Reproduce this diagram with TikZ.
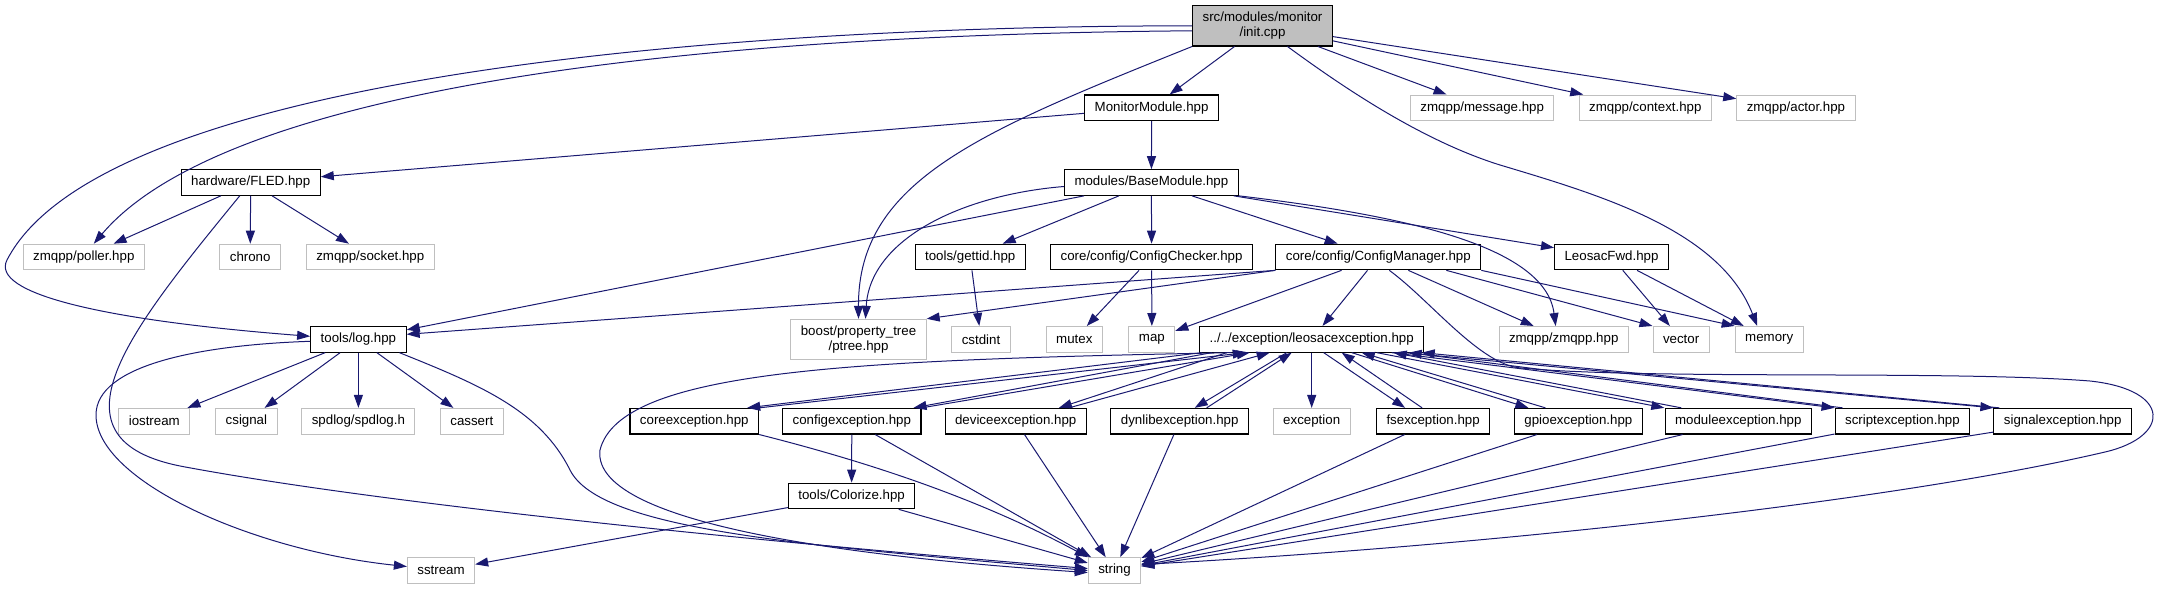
\documentclass[tikz,border=0pt]{standalone}
\usepackage{fontspec}
\setmainfont{Liberation Sans}
\usetikzlibrary{arrows.meta}
\definecolor{dxedge}{HTML}{191970}
\definecolor{dxgrey}{HTML}{BFBFBF}
\tikzset{
  filenode/.style={draw=black,rectangle,fill=white,line width=1.1pt,
    minimum height=25.6pt,inner xsep=10pt,inner ysep=2pt,
    font=\fontsize{13.3}{15}\selectfont,align=center},
  extnode/.style={filenode,draw=dxgrey,line width=1pt},
  rootnode/.style={filenode,fill=dxgrey,minimum height=40.3pt},
  incarrow/.style={draw=dxedge,line width=1pt,-{Triangle[length=13pt,width=9pt]}},
}
\begin{document}
\begin{tikzpicture}[x=1pt,y=-1pt,
        twoline/.style={minimum height=40pt}]
  \useasboundingbox (0,0) rectangle (2160,589);
  % top rows
  \node[rootnode] (init) at (1262.5,25.8) {src/modules/monitor\\/init.cpp};
  \node[filenode] (mon) at (1151.6,107.8) {MonitorModule.hpp};
  \node[extnode] (message) at (1482.2,107.8) {zmqpp/message.hpp};
  \node[extnode] (context) at (1645.3,107.8) {zmqpp/context.hpp};
  \node[extnode] (actor) at (1795.9,107.8) {zmqpp/actor.hpp};
  \node[filenode] (fled) at (250.7,182.5) {hardware/FLED.hpp};
  \node[filenode] (base) at (1151.4,182.5) {modules/BaseModule.hpp};
  \node[extnode] (poller) at (83.8,257) {zmqpp/poller.hpp};
  \node[extnode] (chrono) at (250.2,257) {chrono};
  \node[extnode] (socket) at (370.3,257) {zmqpp/socket.hpp};
  \node[filenode] (gettid) at (970.2,257) {tools/gettid.hpp};
  \node[filenode] (checker) at (1151.6,257) {core/config/ConfigChecker.hpp};
  \node[filenode] (cfgmgr) at (1378.3,257) {core/config/ConfigManager.hpp};
  \node[filenode] (fwd) at (1611.5,257) {LeosacFwd.hpp};
  % middle row
  \node[filenode] (log) at (358.4,339.3) {tools/log.hpp};
  \node[extnode,twoline] (ptree) at (858.5,339.3) {boost/property\_tree\\/ptree.hpp};
  \node[extnode] (cstdint) at (981,339.3) {cstdint};
  \node[extnode] (mutex) at (1074.3,339.3) {mutex};
  \node[extnode] (map) at (1151.9,339.3) {map};
  \node[filenode] (leosac) at (1311.7,339.3) {../../exception/leosacexception.hpp};
  \node[extnode] (zmqpp) at (1563.7,339.3) {zmqpp/zmqpp.hpp};
  \node[extnode] (vector) at (1681.1,339.3) {vector};
  \node[extnode] (memory) at (1769.2,339.3) {memory};
  % exceptions row
  \node[extnode] (iostream) at (154.3,421.2) {iostream};
  \node[extnode] (csignal) at (246.4,421.2) {csignal};
  \node[extnode] (spdlog) at (358.4,421.2) {spdlog/spdlog.h};
  \node[extnode] (cassert) at (471.8,421.2) {cassert};
  \node[filenode] (coreexc) at (694.3,421.2) {coreexception.hpp};
  \node[filenode] (cfgexc) at (851.8,421.2) {configexception.hpp};
  \node[filenode] (devexc) at (1015.7,421.2) {deviceexception.hpp};
  \node[filenode] (dynexc) at (1179.7,421.2) {dynlibexception.hpp};
  \node[extnode] (exception) at (1311.7,421.2) {exception};
  \node[filenode] (fsexc) at (1433.1,421.2) {fsexception.hpp};
  \node[filenode] (gpioexc) at (1578.4,421.2) {gpioexception.hpp};
  \node[filenode] (modexc) at (1738.3,421.2) {moduleexception.hpp};
  \node[filenode] (screxc) at (1902.4,421.2) {scriptexception.hpp};
  \node[filenode] (sigexc) at (2062.7,421.2) {signalexception.hpp};
  \node[filenode] (colorize) at (851.6,496) {tools/Colorize.hpp};
  \node[extnode] (sstream) at (441,570.5) {sstream};
  \node[extnode] (string) at (1114.5,570.5) {string};

  % init.cpp
  \draw[incarrow] (init.west) .. controls (700,26) and (100,80) .. (7,260)
    .. controls (-10,293) and (100,320) .. ([yshift=3pt]log.west);
  \draw[incarrow] ([yshift=-5pt]init.west) .. controls (650,35) and (220,95) .. ([xshift=10pt]poller.north);
  \draw[incarrow] (init) -- (mon);
  \draw[incarrow] (init.south west) .. controls (982,131) and (858,180) .. (ptree.north);
  \draw[incarrow] (init) -- (message);
  \draw[incarrow] (init) -- (context);
  \draw[incarrow] (init) -- (actor);
  \draw[incarrow] ([xshift=25pt]init.south) .. controls (1340,85) and (1420,140) .. (1500,165)
    .. controls (1600,195) and (1720,230) .. ([xshift=-12pt]memory.north);
  % MonitorModule, FLED
  \draw[incarrow] (mon) -- (fled);
  \draw[incarrow] (mon) -- (base);
  \draw[incarrow] (fled) -- (poller);
  \draw[incarrow] (fled) -- (chrono);
  \draw[incarrow] (fled) -- (socket);
  \draw[incarrow] ([xshift=-11pt]fled.south) .. controls (130,330) and (40,440) .. (183.7,466.7)
    .. controls (400,507) and (800,545) .. ([yshift=2pt]string.west);
  % BaseModule
  \draw[incarrow] ([yshift=-4pt]base.west) .. controls (960,195) and (870,240) .. ([xshift=7pt]ptree.north);
  \draw[incarrow] (base) -- (log);
  \draw[incarrow] (base) -- (gettid);
  \draw[incarrow] (base) -- (checker);
  \draw[incarrow] (base) -- (cfgmgr);
  \draw[incarrow] (base) -- (fwd);
  \draw[incarrow] (base.south east) .. controls (1400,215) and (1545,245) .. ([xshift=-8pt]zmqpp.north);
  \draw[incarrow] (gettid) -- (cstdint);
  \draw[incarrow] (checker) -- (mutex);
  \draw[incarrow] (checker) -- (map);
  % ConfigManager
  \draw[incarrow] (cfgmgr.south west) -- ([yshift=5pt]log.east);
  \draw[incarrow] (cfgmgr.south west) -- (ptree.north east);
  \draw[incarrow] (cfgmgr) -- (map);
  \draw[incarrow] (cfgmgr) -- (leosac);
  \draw[incarrow] (cfgmgr) -- (zmqpp);
  \draw[incarrow] ([xshift=68pt]cfgmgr.south) -- (vector.north west);
  \draw[incarrow] (cfgmgr.south east) -- (memory.north west);
  \draw[incarrow] ([xshift=11pt]cfgmgr.south) .. controls (1430,300) and (1480,365) .. (1521,368)
    .. controls (1650,380) and (1950,370) .. (2090,381)
    .. controls (2173,390) and (2170,437) .. (2105,452)
    .. controls (1900,500) and (1500,545) .. ([yshift=6pt]string.east);
  \draw[incarrow] (fwd) -- (vector);
  \draw[incarrow] (fwd) -- (memory);
  % tools/log.hpp
  \draw[incarrow] (log) -- (iostream);
  \draw[incarrow] (log) -- (csignal);
  \draw[incarrow] (log) -- (spdlog);
  \draw[incarrow] (log) -- (cassert);
  \draw[incarrow] ([yshift=-2pt]log.west) .. controls (200,345) and (96,365) .. (96,415)
    .. controls (96,480) and (250,550) .. ([yshift=4pt]sstream.west);
  \draw[incarrow] ([xshift=41pt]log.south) .. controls (480,385) and (540,410) .. (570,470)
    .. controls (600,530) and (800,545) .. (string.west);
  % leosacexception and the exception classes
  \draw[incarrow] ([xshift=-80pt]leosac.south) .. controls (850,360) and (620,370) .. (600,450)
    .. controls (590,530) and (900,560) .. ([yshift=-2pt]string.west);
  \draw[incarrow] ([xshift=-110pt]leosac.south) -- ([xshift=-12pt]coreexc.north east);
  \draw[incarrow] (coreexc.north east) -- ([xshift=-66pt]leosac.south);
  \draw[incarrow] ([xshift=-100pt]leosac.south) -- ([xshift=-8pt]cfgexc.north east);
  \draw[incarrow] (cfgexc.north east) -- ([xshift=-62pt]leosac.south);
  \draw[incarrow] ([xshift=-85pt]leosac.south) -- ([xshift=-28pt]devexc.north east);
  \draw[incarrow] ([xshift=-18pt]devexc.north east) -- ([xshift=-42pt]leosac.south);
  \draw[incarrow] ([xshift=-25pt]leosac.south) -- ([xshift=15pt]dynexc.north);
  \draw[incarrow] ([xshift=27pt]dynexc.north) -- ([xshift=-20pt]leosac.south);
  \draw[incarrow] (leosac) -- (exception);
  \draw[incarrow] ([xshift=12pt]leosac.south) -- ([xshift=-28pt]fsexc.north);
  \draw[incarrow] ([xshift=-11pt]fsexc.north) -- ([xshift=30pt]leosac.south);
  \draw[incarrow] ([xshift=40pt]leosac.south) -- ([xshift=-50pt]gpioexc.north);
  \draw[incarrow] ([xshift=-33pt]gpioexc.north) -- ([xshift=50pt]leosac.south);
  \draw[incarrow] ([xshift=65pt]leosac.south) -- ([xshift=-74pt]modexc.north);
  \draw[incarrow] ([xshift=-57pt]modexc.north) -- ([xshift=82pt]leosac.south);
  \draw[incarrow] ([xshift=80pt]leosac.south) -- (screxc.north west);
  \draw[incarrow] ([xshift=8pt]screxc.north west) -- ([xshift=97pt]leosac.south);
  \draw[incarrow] ([xshift=92pt]leosac.south) -- (sigexc.north west);
  \draw[incarrow] ([xshift=6pt]sigexc.north west) -- ([xshift=110pt]leosac.south);
  % everything ends in string
  \draw[incarrow] (coreexc.south east) .. controls (900,470) and (1000,510) .. (string.north west);
  \draw[incarrow] (cfgexc) -- (string);
  \draw[incarrow] (cfgexc) -- (colorize);
  \draw[incarrow] (devexc) -- (string);
  \draw[incarrow] (dynexc) -- (string);
  \draw[incarrow] (fsexc) -- (string);
  \draw[incarrow] (gpioexc) -- (string);
  \draw[incarrow] (modexc) -- (string);
  \draw[incarrow] (screxc) -- (string);
  \draw[incarrow] (sigexc) -- (string);
  \draw[incarrow] (colorize) -- (sstream);
  \draw[incarrow] (colorize) -- (string);
\end{tikzpicture}
\end{document}
